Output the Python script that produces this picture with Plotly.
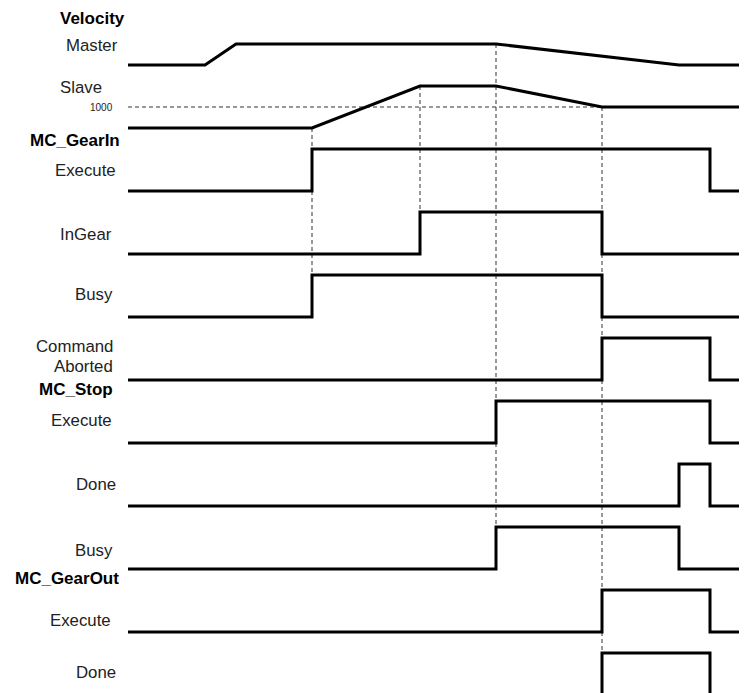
import numpy as np
import plotly.graph_objects as go

# ---- data ------------------------------------------------------------------
# time axis in arbitrary units, 0 = where the traces start
T_END = 619

master_t = [0, 77, 108, 368, 551, T_END]
master_v = [1000, 1000, 2000, 2000, 1000, 1000]
slave_t = [0, 184, 292, 368, 474, T_END]
slave_v = [0, 0, 2000, 2000, 1000, 1000]
slave_target = 1000

# digital signals: [rise time, fall time]
gearin_execute = [184, 582]
gearin_ingear = [292, 474]
gearin_busy = [184, 474]
gearin_aborted = [474, 582]
stop_execute = [368, 582]
stop_done = [551, 582]
stop_busy = [368, 551]
gearout_execute = [474, 582]
gearout_done = [474, 582]

# ---- layout ----------------------------------------------------------------
W, H = 747, 693
PAD = 8                      # default body margin of the html page
X0 = 128                     # screen pixel where t=0 sits
VEL_SCALE = 21 / 1000        # px per velocity unit
HI = 42                      # px height of a logic high
LINE = dict(color="black", width=3)
GUIDE = dict(color="#333", width=1, dash="4px,3px")

vel_rows = {"master": 86, "slave": 128}
dig_rows = [
    ("gi_exec", gearin_execute, 191),
    ("gi_ingear", gearin_ingear, 254),
    ("gi_busy", gearin_busy, 317),
    ("gi_abort", gearin_aborted, 380),
    ("st_exec", stop_execute, 443),
    ("st_done", stop_done, 506),
    ("st_busy", stop_busy, 569),
    ("go_exec", gearout_execute, 632),
    ("go_done", gearout_done, 695),
]
base_of = {k: b for k, _, b in dig_rows}

# label, right edge px, centre y px, bold, size
labels = [
    ("Velocity", 127, 18, True, 17),
    ("Master", 120, 45, False, 16.8),
    ("Slave", 104, 87, False, 16.8),
    ("1000", 115, 107, False, 10),
    ("MC_GearIn", 122, 140, True, 17),
    ("Execute", 118, 170, False, 16.8),
    ("InGear", 114, 234, False, 16.8),
    ("Busy", 115, 294, False, 16.8),
    ("Command", 115, 346, False, 16.8),
    ("Aborted", 115, 366, False, 16.8),
    ("MC_Stop", 115, 389, True, 17),
    ("Execute", 114, 420, False, 16.8),
    ("Done", 118, 484, False, 16.8),
    ("Busy", 115, 550, False, 16.8),
    ("MC_GearOut", 121, 578, True, 17),
    ("Execute", 113, 620, False, 16.8),
    ("Done", 118, 672, False, 16.8),
]


def vel_y(row, v):
    return [vel_rows[row] - x * VEL_SCALE for x in v]


fig = go.Figure()

# 1000 reference line on the slave row
fig.add_trace(go.Scatter(
    x=[0, slave_t[4]], y=vel_y("slave", [slave_target, slave_target]),
    mode="lines", line=GUIDE, hoverinfo="skip",
))

# vertical guides: (time, velocity row, row whose high level ends the guide)
guides = [
    (slave_t[1], "slave", slave_t, slave_v, "gi_busy"),
    (slave_t[2], "slave", slave_t, slave_v, "gi_ingear"),
    (master_t[3], "master", master_t, master_v, "st_busy"),
    (slave_t[4], "slave", slave_t, slave_v, "go_done"),
]
for t, row, tt, vv, bottom in guides:
    top = vel_y(row, [np.interp(t, tt, vv)])[0]
    fig.add_trace(go.Scatter(
        x=[t, t], y=[top, base_of[bottom] - HI],
        mode="lines", line=GUIDE, hoverinfo="skip",
    ))

# velocity profiles
fig.add_trace(go.Scatter(x=master_t, y=vel_y("master", master_v), mode="lines", line=LINE))
fig.add_trace(go.Scatter(x=slave_t, y=vel_y("slave", slave_v), mode="lines", line=LINE))

# logic signals
for key, (rise, fall), base in dig_rows:
    xs = [0, rise, fall, T_END]
    lv = [0, 1, 0, 0]
    fig.add_trace(go.Scatter(
        x=xs, y=[base - v * HI for v in lv],
        mode="lines", line=dict(LINE, shape="hv"),
    ))

for text, xr, yc, bold, size in labels:
    fig.add_annotation(
        x=xr - X0, y=yc, xref="x", yref="y",
        text=f"<b>{text}</b>" if bold else text,
        showarrow=False, xanchor="right", yanchor="middle",
        font=dict(family="Liberation Sans, Arial, sans-serif", size=size,
                  color="black" if bold else "#222"),
    )

fig.update_layout(
    width=W, height=H,
    margin=dict(l=0, r=0, t=0, b=0),
    showlegend=False,
    plot_bgcolor="white", paper_bgcolor="white",
    xaxis=dict(range=[PAD - X0, W + PAD - X0], visible=False, fixedrange=True),
    yaxis=dict(range=[H + PAD, PAD], visible=False, fixedrange=True),
)

fig.write_html("out.html")
